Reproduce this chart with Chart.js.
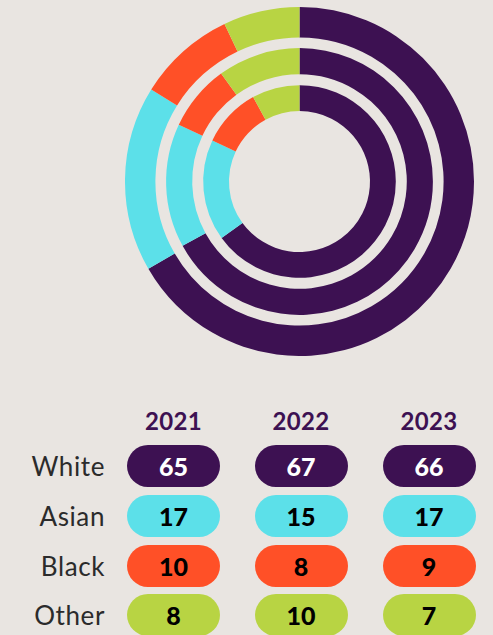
<!DOCTYPE html>
<html>
<head>
<meta charset="utf-8">
<script src="https://cdn.jsdelivr.net/npm/chart.js@4.4.1/dist/chart.umd.min.js"></script>
<style>
  html, body { margin: 0; padding: 0; background: #e9e5e1; }
  body { width: 493px; height: 635px; position: relative; overflow: hidden; font-family: Lato, "Open Sans", sans-serif; }
  #wrap { position: absolute; left: 125px; top: 7px; width: 349px; height: 349px; }
  .hdr { position: absolute; width: 100px; margin-left: -50px; text-align: center; font-weight: 700; font-size: 24px; color: #3d1152; line-height: 30px; margin-top: -15px; letter-spacing: 0.3px; }
  .lbl { position: absolute; right: 388px; font-size: 26px; letter-spacing: 0.6px; color: #2b2b2b; line-height: 30px; margin-top: -15px; white-space: nowrap; }
  .pill { position: absolute; width: 93px; height: 42px; margin-left: -46.5px; margin-top: -21px; border-radius: 21px; text-align: center; line-height: 42px; font-weight: 900; font-size: 25px; }
</style>
</head>
<body>
<div id="wrap"><canvas id="c" width="349" height="349"></canvas></div>
<div id="table"></div>
<script>
// Data
const categories = ["White", "Asian", "Black", "Other"];
const years = ["2021", "2022", "2023"];
const values2021 = [65, 17, 10, 8];
const values2022 = [67, 15, 8, 10];
const values2023 = [66, 17, 9, 7];
const colors = ["#3d1152", "#5ce0e9", "#ff5027", "#b8d443"];
const textColors = ["#ffffff", "#000000", "#000000", "#000000"];

const seriesByYear = { "2021": values2021, "2022": values2022, "2023": values2023 };

// Doughnut: outer ring 2023, middle 2022, inner 2021; transparent spacer rings between
function ring(vals, weight) {
  return { data: vals, backgroundColor: colors, borderWidth: 0, weight: weight, hoverOffset: 0, offset: 0 };
}
function spacer(weight) {
  return { data: [1], backgroundColor: ["rgba(0,0,0,0)"], borderWidth: 0, weight: weight, hoverOffset: 0, offset: 0 };
}

new Chart(document.getElementById("c"), {
  type: "doughnut",
  data: {
    labels: categories,
    datasets: [
      ring(values2023, 30.4),
      spacer(10.7),
      ring(values2022, 26.1),
      spacer(11),
      ring(values2021, 25.8)
    ]
  },
  options: {
    responsive: false,
    animation: false,
    cutout: 70.5,
    rotation: 0,
    layout: { padding: 0 },
    events: [],
    plugins: { legend: { display: false }, tooltip: { enabled: false } }
  }
});

// Table built from the data arrays
const table = document.getElementById("table");
const colX = [173.5, 301, 429];
const headerY = 421;
const rowY = [466, 516, 565.5, 615];
years.forEach((y, i) => {
  const h = document.createElement("div");
  h.className = "hdr";
  h.style.left = colX[i] + "px";
  h.style.top = headerY + "px";
  h.textContent = y;
  table.appendChild(h);
});
categories.forEach((cat, r) => {
  const l = document.createElement("div");
  l.className = "lbl";
  l.style.top = rowY[r] + "px";
  l.textContent = cat;
  table.appendChild(l);
  years.forEach((y, i) => {
    const p = document.createElement("div");
    p.className = "pill";
    p.style.left = colX[i] + "px";
    p.style.top = rowY[r] + "px";
    p.style.background = colors[r];
    p.style.color = textColors[r];
    p.textContent = seriesByYear[y][r];
    table.appendChild(p);
  });
});
</script>
</body>
</html>
